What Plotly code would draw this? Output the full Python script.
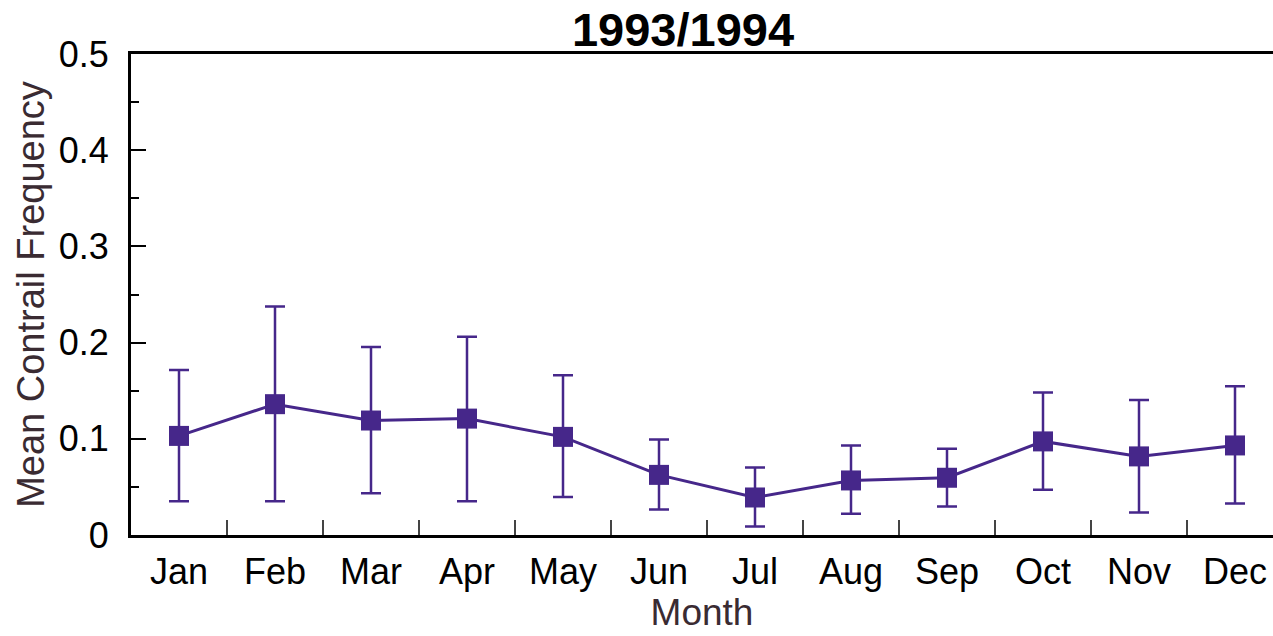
import plotly.graph_objects as go

months = ["Jan", "Feb", "Mar", "Apr", "May", "Jun", "Jul", "Aug", "Sep", "Oct", "Nov", "Dec"]
mean_freq = [0.103, 0.136, 0.119, 0.121, 0.102, 0.0625, 0.039, 0.0567, 0.0595, 0.0973, 0.0817, 0.0931]
upper = [0.1715, 0.2375, 0.1954, 0.2062, 0.166, 0.0994, 0.0702, 0.0931, 0.0897, 0.148, 0.1403, 0.1545]
lower = [0.0352, 0.0352, 0.0435, 0.0352, 0.0395, 0.0265, 0.0089, 0.0221, 0.0297, 0.047, 0.0234, 0.0328]

err_plus = [u - m for u, m in zip(upper, mean_freq)]
err_minus = [m - l for m, l in zip(mean_freq, lower)]

purple = "#46278a"
title_col = "#3a2b32"
FONT = "Liberation Sans, Arial, sans-serif"

fig = go.Figure()
fig.add_trace(go.Scatter(
    x=months, y=mean_freq, mode="lines+markers",
    line=dict(color=purple, width=3),
    marker=dict(symbol="square", size=20, color=purple, line=dict(width=0)),
    error_y=dict(type="data", symmetric=False, array=err_plus, arrayminus=err_minus,
                 color=purple, thickness=2.5, width=10),
    showlegend=False,
))

fig.update_layout(
    width=1273, height=636,
    margin=dict(l=131, r=0, t=54, b=101),
    paper_bgcolor="white", plot_bgcolor="white",
    font=dict(family=FONT, color="black"),
    title=dict(text="<b>1993/1994</b>", x=683 / 1273, xanchor="center",
               y=1 - 30 / 636, yanchor="middle", xref="container", yref="container",
               font=dict(size=47, family=FONT, color="black")),
)

fig.update_xaxes(
    type="category", categoryorder="array", categoryarray=months,
    range=[-0.5, -0.5 + 1142 / 96],
    showline=True, linecolor="black", linewidth=3, mirror=True,
    ticks="inside", tickson="boundaries", ticklen=15, tickwidth=2, tickcolor="#444444",
    showgrid=False, zeroline=False,
    tickfont=dict(size=36, family=FONT, color="black"),
    ticklabelstandoff=3,
    title=dict(text="Month", font=dict(size=37, family=FONT, color=title_col), standoff=1),
)

fig.update_yaxes(
    range=[0, 0.5], dtick=0.1, tickformat="~g",
    showline=True, linecolor="black", linewidth=3, mirror=False,
    ticks="inside", ticklen=15, tickwidth=2, tickcolor="black",
    minor=dict(dtick=0.05, ticks="inside", ticklen=8, tickwidth=1.5, tickcolor="black"),
    showgrid=False, zeroline=False,
    tickfont=dict(size=36, family=FONT, color="black"),
    ticklabelstandoff=12,
    title=dict(text="Mean Contrail Frequency", font=dict(size=38, family=FONT, color=title_col), standoff=3),
)

fig.write_html(
    "out.html",
    config={"displayModeBar": False},
    post_script="document.body.style.margin='0';document.body.style.overflow='hidden';",
)
